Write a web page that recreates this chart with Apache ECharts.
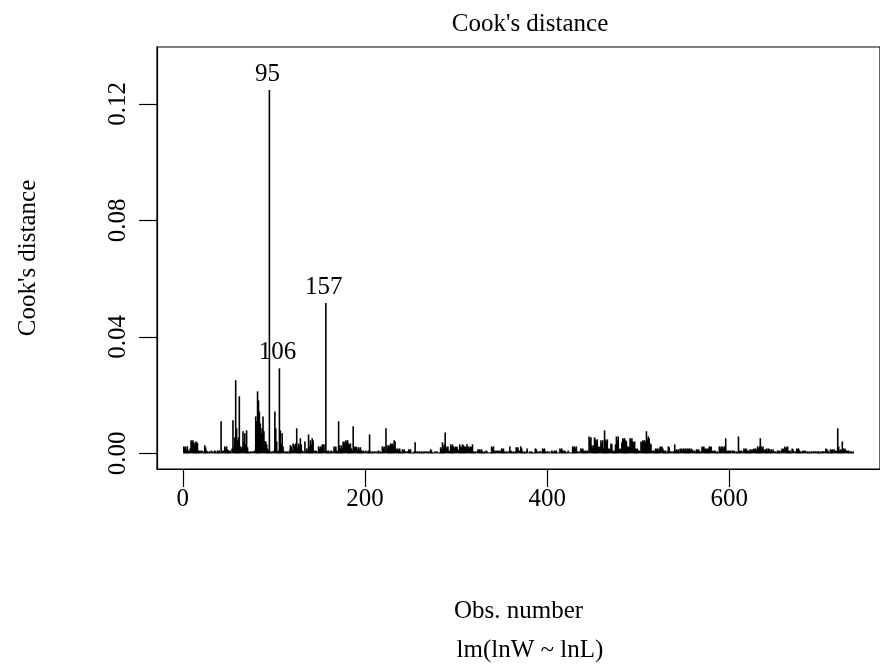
<!DOCTYPE html>
<html>
<head>
<meta charset="utf-8">
<script src="https://cdn.jsdelivr.net/npm/echarts@6/dist/echarts.min.js"></script>
<style>
  html, body { margin: 0; padding: 0; background: #fff; }
  #chart { width: 880px; height: 667px; }
</style>
</head>
<body>
<div id="chart"></div>
<script>
// Cook's distance for each observation of lm(lnW ~ lnL), obs 1..736
const cooksD = [
  0.0024, 0.0021, 0.0024, 0.0014, 0.0024, 0.0010, 0.0007, 0.0017, 0.0045, 0.0041,
  0.0045, 0.0038, 0.0031, 0.0038, 0.0041, 0.0035, 0.0010, 0.0007, 0.0010, 0.0003,
  0.0010, 0.0007, 0.0003, 0.0028, 0.0021, 0.0010, 0.0007, 0.0003, 0.0007, 0.0003,
  0.0010, 0.0003, 0.0007, 0.0003, 0.0010, 0.0007, 0.0003, 0.0010, 0.0007, 0.0010,
  0.0003, 0.0110, 0.0010, 0.0007, 0.0010, 0.0024, 0.0017, 0.0024, 0.0014, 0.0010,
  0.0007, 0.0010, 0.0003, 0.0017, 0.0114, 0.0024, 0.0055, 0.0251, 0.0086, 0.0045,
  0.0055, 0.0196, 0.0024, 0.0017, 0.0024, 0.0076, 0.0041, 0.0069, 0.0031, 0.0079,
  0.0021, 0.0007, 0.0003, 0.0007, 0.0003, 0.0007, 0.0003, 0.0007, 0.0010, 0.0127,
  0.0110, 0.0213, 0.0182, 0.0144, 0.0103, 0.0069, 0.0086, 0.0127, 0.0076, 0.0041,
  0.0041, 0.0031, 0.0017, 0.0010, 0.1248, 0.0007, 0.0003, 0.0007, 0.0003, 0.0010,
  0.0144, 0.0086, 0.0041, 0.0007, 0.0010, 0.0292, 0.0079, 0.0031, 0.0069, 0.0024,
  0.0007, 0.0003, 0.0007, 0.0003, 0.0007, 0.0003, 0.0010, 0.0028, 0.0024, 0.0010,
  0.0034, 0.0031, 0.0024, 0.0034, 0.0086, 0.0021, 0.0034, 0.0028, 0.0052, 0.0031,
  0.0010, 0.0007, 0.0003, 0.0041, 0.0007, 0.0017, 0.0010, 0.0065, 0.0024, 0.0045,
  0.0031, 0.0052, 0.0045, 0.0010, 0.0007, 0.0010, 0.0007, 0.0003, 0.0024, 0.0017,
  0.0024, 0.0021, 0.0031, 0.0028, 0.0031, 0.0010, 0.0516, 0.0010, 0.0007, 0.0010,
  0.0003, 0.0007, 0.0010, 0.0003, 0.0007, 0.0024, 0.0017, 0.0024, 0.0010, 0.0007,
  0.0110, 0.0028, 0.0017, 0.0028, 0.0021, 0.0041, 0.0034, 0.0041, 0.0045, 0.0038,
  0.0045, 0.0034, 0.0031, 0.0034, 0.0017, 0.0010, 0.0093, 0.0024, 0.0017, 0.0024,
  0.0021, 0.0010, 0.0021, 0.0014, 0.0021, 0.0010, 0.0007, 0.0010, 0.0003, 0.0007,
  0.0010, 0.0003, 0.0007, 0.0010, 0.0065, 0.0007, 0.0003, 0.0007, 0.0003, 0.0007,
  0.0003, 0.0007, 0.0003, 0.0007, 0.0010, 0.0003, 0.0007, 0.0003, 0.0024, 0.0017,
  0.0024, 0.0010, 0.0086, 0.0028, 0.0017, 0.0028, 0.0024, 0.0034, 0.0031, 0.0034,
  0.0028, 0.0045, 0.0041, 0.0017, 0.0014, 0.0017, 0.0010, 0.0017, 0.0007, 0.0003,
  0.0014, 0.0010, 0.0014, 0.0007, 0.0007, 0.0003, 0.0007, 0.0014, 0.0010, 0.0014,
  0.0003, 0.0003, 0.0003, 0.0007, 0.0038, 0.0007, 0.0003, 0.0007, 0.0003, 0.0007,
  0.0003, 0.0007, 0.0003, 0.0007, 0.0003, 0.0007, 0.0003, 0.0007, 0.0003, 0.0007,
  0.0003, 0.0014, 0.0010, 0.0003, 0.0003, 0.0003, 0.0007, 0.0003, 0.0007, 0.0003,
  0.0003, 0.0003, 0.0021, 0.0014, 0.0038, 0.0024, 0.0031, 0.0072, 0.0024, 0.0017,
  0.0024, 0.0010, 0.0007, 0.0031, 0.0024, 0.0031, 0.0024, 0.0017, 0.0024, 0.0021,
  0.0024, 0.0014, 0.0010, 0.0031, 0.0024, 0.0021, 0.0031, 0.0028, 0.0024, 0.0021,
  0.0024, 0.0031, 0.0021, 0.0024, 0.0017, 0.0024, 0.0021, 0.0031, 0.0007, 0.0003,
  0.0007, 0.0003, 0.0007, 0.0014, 0.0010, 0.0014, 0.0007, 0.0014, 0.0007, 0.0003,
  0.0007, 0.0003, 0.0010, 0.0007, 0.0003, 0.0003, 0.0003, 0.0003, 0.0024, 0.0017,
  0.0024, 0.0010, 0.0007, 0.0010, 0.0007, 0.0010, 0.0007, 0.0010, 0.0007, 0.0017,
  0.0014, 0.0017, 0.0007, 0.0003, 0.0007, 0.0003, 0.0007, 0.0003, 0.0024, 0.0010,
  0.0007, 0.0003, 0.0007, 0.0003, 0.0007, 0.0021, 0.0017, 0.0021, 0.0007, 0.0010,
  0.0024, 0.0017, 0.0007, 0.0003, 0.0007, 0.0003, 0.0007, 0.0017, 0.0003, 0.0003,
  0.0007, 0.0003, 0.0007, 0.0003, 0.0003, 0.0003, 0.0017, 0.0014, 0.0007, 0.0003,
  0.0007, 0.0003, 0.0007, 0.0003, 0.0017, 0.0014, 0.0017, 0.0007, 0.0003, 0.0007,
  0.0003, 0.0007, 0.0003, 0.0003, 0.0010, 0.0007, 0.0003, 0.0010, 0.0007, 0.0010,
  0.0003, 0.0003, 0.0003, 0.0017, 0.0010, 0.0017, 0.0010, 0.0007, 0.0010, 0.0007,
  0.0003, 0.0003, 0.0010, 0.0003, 0.0003, 0.0003, 0.0003, 0.0024, 0.0021, 0.0024,
  0.0017, 0.0024, 0.0007, 0.0003, 0.0007, 0.0003, 0.0017, 0.0014, 0.0017, 0.0010,
  0.0007, 0.0010, 0.0007, 0.0010, 0.0007, 0.0058, 0.0048, 0.0055, 0.0028, 0.0021,
  0.0028, 0.0055, 0.0048, 0.0041, 0.0048, 0.0024, 0.0021, 0.0024, 0.0045, 0.0034,
  0.0045, 0.0017, 0.0079, 0.0048, 0.0041, 0.0048, 0.0017, 0.0014, 0.0017, 0.0034,
  0.0031, 0.0010, 0.0007, 0.0010, 0.0031, 0.0058, 0.0045, 0.0058, 0.0017, 0.0014,
  0.0017, 0.0038, 0.0052, 0.0048, 0.0052, 0.0045, 0.0041, 0.0024, 0.0021, 0.0024,
  0.0052, 0.0045, 0.0052, 0.0041, 0.0038, 0.0041, 0.0017, 0.0014, 0.0017, 0.0010,
  0.0010, 0.0007, 0.0041, 0.0038, 0.0045, 0.0041, 0.0045, 0.0038, 0.0076, 0.0048,
  0.0058, 0.0052, 0.0034, 0.0031, 0.0010, 0.0007, 0.0010, 0.0007, 0.0017, 0.0014,
  0.0017, 0.0010, 0.0017, 0.0024, 0.0021, 0.0024, 0.0017, 0.0010, 0.0007, 0.0010,
  0.0003, 0.0007, 0.0024, 0.0021, 0.0007, 0.0003, 0.0007, 0.0003, 0.0007, 0.0031,
  0.0010, 0.0014, 0.0010, 0.0014, 0.0007, 0.0017, 0.0014, 0.0017, 0.0010, 0.0017,
  0.0014, 0.0017, 0.0010, 0.0017, 0.0014, 0.0017, 0.0010, 0.0017, 0.0014, 0.0010,
  0.0007, 0.0010, 0.0003, 0.0014, 0.0010, 0.0014, 0.0010, 0.0003, 0.0007, 0.0024,
  0.0021, 0.0024, 0.0017, 0.0014, 0.0017, 0.0014, 0.0017, 0.0024, 0.0021, 0.0024,
  0.0007, 0.0010, 0.0007, 0.0010, 0.0007, 0.0003, 0.0007, 0.0003, 0.0024, 0.0017,
  0.0024, 0.0021, 0.0024, 0.0017, 0.0024, 0.0052, 0.0010, 0.0007, 0.0010, 0.0007,
  0.0010, 0.0003, 0.0010, 0.0007, 0.0010, 0.0007, 0.0003, 0.0007, 0.0003, 0.0058,
  0.0010, 0.0007, 0.0010, 0.0007, 0.0003, 0.0017, 0.0014, 0.0017, 0.0014, 0.0010,
  0.0007, 0.0010, 0.0014, 0.0010, 0.0014, 0.0007, 0.0017, 0.0014, 0.0017, 0.0010,
  0.0024, 0.0017, 0.0024, 0.0052, 0.0024, 0.0017, 0.0024, 0.0014, 0.0007, 0.0014,
  0.0017, 0.0010, 0.0017, 0.0014, 0.0010, 0.0014, 0.0007, 0.0014, 0.0007, 0.0003,
  0.0007, 0.0003, 0.0010, 0.0007, 0.0010, 0.0003, 0.0010, 0.0017, 0.0014, 0.0017,
  0.0024, 0.0017, 0.0021, 0.0024, 0.0010, 0.0007, 0.0010, 0.0003, 0.0017, 0.0014,
  0.0007, 0.0003, 0.0007, 0.0017, 0.0014, 0.0017, 0.0010, 0.0007, 0.0003, 0.0007,
  0.0010, 0.0007, 0.0010, 0.0007, 0.0003, 0.0007, 0.0003, 0.0007, 0.0003, 0.0007,
  0.0003, 0.0007, 0.0007, 0.0003, 0.0007, 0.0003, 0.0007, 0.0007, 0.0003, 0.0007,
  0.0003, 0.0007, 0.0007, 0.0003, 0.0007, 0.0017, 0.0014, 0.0010, 0.0007, 0.0003,
  0.0014, 0.0010, 0.0014, 0.0007, 0.0014, 0.0010, 0.0007, 0.0010, 0.0086, 0.0024,
  0.0010, 0.0014, 0.0010, 0.0041, 0.0017, 0.0014, 0.0017, 0.0010, 0.0010, 0.0007,
  0.0010, 0.0003, 0.0007, 0.0007, 0.0003, 0.0007
];

// Observations flagged with their index above the bar
const labelledObs = [95, 106, 157];

// Tick positions and labels
const xTicks = [0, 200, 400, 600];
const yTicks = [0, 0.04, 0.08, 0.12];
const yTickLabels = ['0.00', '0.04', '0.08', '0.12'];

const mainTitle = "Cook's distance";
const xTitle = 'Obs. number';
const subCaption = 'lm(lnW ~ lnL)';
const yTitle = "Cook's distance";

const FONT_FAMILY = '"Liberation Serif", "Times New Roman", serif';
const FONT_SIZE = 25;

// R-style axis ranges: 4% padding on both ends, y upper limit stretched for labels
const n = cooksD.length;
const xPad = (n - 1) * 0.04;
const yUpper = Math.max(...cooksD) * 1.075;
const yPad = yUpper * 0.04;

const seriesData = cooksD.map((v, i) => [i + 1, v]);

const chart = echarts.init(document.getElementById('chart'), null, { renderer: 'canvas' });

const textStyle = { fontFamily: FONT_FAMILY, fontSize: FONT_SIZE, color: '#000', fontWeight: 'normal' };

const option = {
  animation: false,
  backgroundColor: '#fff',
  title: [
    { text: mainTitle, left: 525, top: 7, textAlign: 'center', textStyle: textStyle },
    { text: subCaption, left: 525, top: 633, textAlign: 'center', textStyle: textStyle }
  ],
  grid: {
    left: 157, top: 47, width: 732, height: 422,
    show: true, borderColor: '#000', borderWidth: 1.2, backgroundColor: 'transparent'
  },
  xAxis: {
    type: 'value',
    min: 1 - xPad,
    max: n + xPad,
    name: xTitle,
    nameLocation: 'middle',
    nameGap: 130,
    nameTextStyle: textStyle,
    splitLine: { show: false },
    axisLine: { show: true, onZero: false, lineStyle: { color: '#000', width: 1.2 } },
    axisTick: { show: true, inside: false, length: 18, customValues: xTicks, lineStyle: { color: '#000', width: 1.2 } },
    axisLabel: {
      customValues: xTicks, margin: 18, color: '#000',
      fontFamily: FONT_FAMILY, fontSize: FONT_SIZE,
      showMinLabel: true, showMaxLabel: true
    }
  },
  yAxis: {
    type: 'value',
    min: -yPad,
    max: yUpper + yPad,
    name: yTitle,
    nameLocation: 'middle',
    nameGap: 116,
    nameRotate: 90,
    nameTextStyle: textStyle,
    splitLine: { show: false },
    axisLine: { show: true, onZero: false, lineStyle: { color: '#000', width: 1.2 } },
    axisTick: { show: true, inside: false, length: 18, customValues: yTicks, lineStyle: { color: '#000', width: 1.2 } },
    axisLabel: {
      customValues: yTicks, rotate: 90, margin: 26, color: '#000',
      fontFamily: FONT_FAMILY, fontSize: FONT_SIZE,
      formatter: (v) => yTickLabels[yTicks.findIndex(t => Math.abs(t - v) < 1e-9)] ?? v.toFixed(2)
    }
  },
  series: [{
    type: 'custom',
    coordinateSystem: 'cartesian2d',
    clip: false,
    data: seriesData,
    encode: { x: 0, y: 1 },
    renderItem: function (params, api) {
      const obs = api.value(0);
      const d = api.value(1);
      const base = api.coord([obs, 0]);
      const top = api.coord([obs, d]);
      const children = [{
        type: 'line',
        shape: { x1: base[0], y1: base[1], x2: top[0], y2: top[1] },
        style: { stroke: '#000', lineWidth: 1.6 }
      }];
      if (labelledObs.indexOf(obs) !== -1) {
        children.push({
          type: 'text',
          x: top[0] - 2,
          y: top[1] - 3,
          style: {
            text: String(obs), fill: '#000',
            font: FONT_SIZE + 'px ' + FONT_FAMILY,
            align: 'center', verticalAlign: 'bottom'
          }
        });
      }
      return { type: 'group', children: children };
    }
  }]
};

chart.setOption(option);
</script>
</body>
</html>
